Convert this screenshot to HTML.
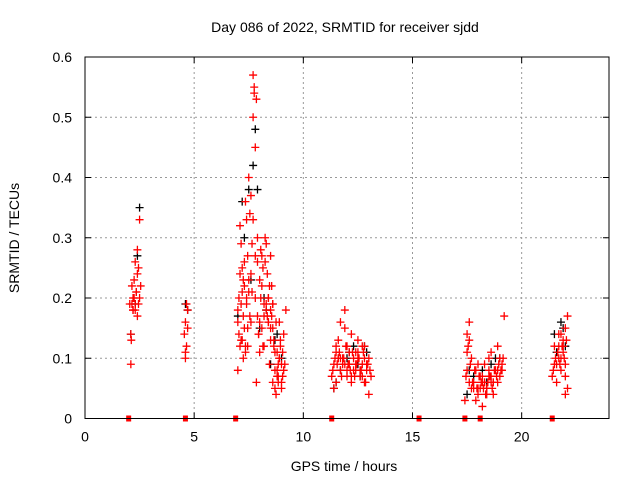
<!DOCTYPE html>
<html><head><meta charset="utf-8"><style>
body{margin:0;background:#fff}
svg text{font-family:"Liberation Sans",sans-serif;font-size:14px;fill:#000}
</style></head><body>
<svg id="chart" width="640" height="480" xmlns="http://www.w3.org/2000/svg">
<text x="345" y="32" text-anchor="middle">Day 086 of 2022, SRMTID for receiver sjdd</text>
<text x="344" y="471" text-anchor="middle">GPS time / hours</text>
<text transform="translate(19,238) rotate(-90)" text-anchor="middle">SRMTID / TECUs</text>
<g id="grid"></g><g id="marks"></g><g id="axes"></g>
</svg>
<script>
const xTicks=[0,5,10,15,20];
const yTicks=[0,0.1,0.2,0.3,0.4,0.5,0.6];
const yTickLabels=["0","0.1","0.2","0.3","0.4","0.5","0.6"];
const gapTimes=[2.0,4.6,6.9,11.3,15.3,17.4,18.1,21.4];
const blackTimes=[2.1,2.3,2.4,2.5,4.6,4.7,7.0,7.2,7.5,7.7,7.8,7.9,8.0,8.2,8.5,8.8,11.4,11.7,12.0,12.3,12.6,12.9,17.5,17.8,18.2,18.6,19.0,21.5,21.8,22.0,7.3,7.6,8.3,8.7,9.0,11.5,12.1,12.5,12.8,17.6,18.4,18.8,21.6,21.9];
const blackVals=[0.14,0.19,0.27,0.35,0.19,0.18,0.17,0.36,0.38,0.42,0.48,0.38,0.15,0.2,0.09,0.14,0.05,0.08,0.1,0.12,0.07,0.11,0.04,0.07,0.08,0.09,0.1,0.14,0.16,0.12,0.3,0.23,0.18,0.13,0.1,0.06,0.11,0.09,0.12,0.08,0.06,0.1,0.11,0.15];
const redTimes=[2.05,2.1,2.12,2.15,2.2,2.2,2.25,2.3,2.3,2.35,2.4,2.4,2.45,2.5,2.5,2.55,2.1,2.3,2.15,2.25,2.35,2.45,2.2,2.4,
4.55,4.6,4.6,4.65,4.7,4.7,4.6,4.65,
7.0,7.0,7.05,7.1,7.1,7.15,7.2,7.2,7.25,7.3,7.3,7.35,7.4,7.4,7.45,7.5,7.5,7.55,7.6,7.6,7.65,7.7,7.7,7.75,7.8,7.8,7.85,7.9,7.9,7.95,8.0,8.0,8.05,8.1,8.1,8.15,8.2,8.2,8.25,8.3,8.3,8.35,8.4,8.4,8.45,8.5,8.5,8.55,8.6,8.6,8.65,8.7,8.75,8.8,8.85,8.9,8.95,9.0,9.0,9.05,9.1,9.15,9.2,7.75,7.8,7.85,7.6,7.5,8.5,8.4,8.6,
7.0,7.05,7.1,7.15,7.2,7.25,7.3,7.35,7.4,7.45,7.55,7.65,7.7,7.9,8.0,8.1,8.2,8.3,8.4,8.5,8.55,8.6,8.65,8.7,8.8,8.85,8.9,8.95,9.0,9.05,9.1,8.7,8.75,8.8,8.85,8.9,7.95,8.05,8.15,8.25,8.35,8.45,7.15,7.25,7.35,7.45,
11.3,11.4,11.5,11.5,11.6,11.7,11.7,11.8,11.9,12.0,12.0,12.1,12.2,12.2,12.3,12.4,12.5,12.5,12.6,12.7,12.8,12.8,12.9,13.0,13.1,11.4,11.6,11.9,12.1,12.4,12.7,13.0,11.8,12.2,12.6,
11.35,11.45,11.55,11.65,11.75,11.85,11.95,12.05,12.15,12.25,12.35,12.45,12.55,12.65,12.75,12.85,12.95,13.05,11.5,11.7,11.9,12.1,12.3,12.5,12.7,12.9,11.6,12.0,12.4,12.8,
17.4,17.5,17.5,17.6,17.6,17.7,17.8,17.9,18.0,18.1,18.2,18.2,18.3,18.4,18.5,18.6,18.7,18.8,18.9,19.0,19.1,19.2,17.5,17.7,18.0,18.3,18.6,18.9,19.1,18.1,18.4,18.7,17.9,18.5,
17.45,17.55,17.65,17.75,17.85,17.95,18.05,18.15,18.25,18.35,18.45,18.55,18.65,18.75,18.85,18.95,19.05,19.15,17.6,17.8,18.0,18.2,18.4,18.6,18.8,19.0,18.3,18.5,18.7,18.9,
21.4,21.5,21.5,21.6,21.7,21.8,21.8,21.9,22.0,22.1,22.1,21.6,21.9,22.0,21.7,22.0,21.45,21.55,21.65,21.75,21.85,21.95,22.05,21.8,21.9,22.0,21.7];
const redVals=[0.19,0.09,0.13,0.22,0.2,0.18,0.23,0.26,0.19,0.21,0.28,0.17,0.25,0.33,0.2,0.22,0.14,0.18,0.19,0.2,0.21,0.19,0.18,0.24,
0.14,0.16,0.1,0.12,0.18,0.15,0.11,0.19,
0.08,0.16,0.2,0.32,0.12,0.29,0.25,0.13,0.1,0.22,0.15,0.36,0.19,0.33,0.12,0.4,0.21,0.34,0.24,0.16,0.29,0.57,0.5,0.55,0.2,0.27,0.06,0.3,0.17,0.14,0.23,0.11,0.2,0.27,0.15,0.25,0.19,0.12,0.3,0.29,0.18,0.24,0.16,0.2,0.09,0.18,0.13,0.22,0.15,0.06,0.12,0.08,0.16,0.11,0.07,0.1,0.13,0.06,0.05,0.11,0.14,0.09,0.18,0.54,0.45,0.53,0.37,0.23,0.27,0.16,0.19,
0.18,0.14,0.24,0.13,0.21,0.17,0.26,0.12,0.2,0.15,0.17,0.21,0.33,0.26,0.16,0.22,0.17,0.19,0.2,0.15,0.17,0.19,0.13,0.11,0.08,0.06,0.16,0.12,0.09,0.07,0.08,0.05,0.04,0.07,0.09,0.1,0.14,0.28,0.12,0.26,0.17,0.22,0.19,0.23,0.11,0.27,
0.07,0.09,0.11,0.06,0.13,0.08,0.16,0.1,0.18,0.07,0.12,0.09,0.14,0.06,0.1,0.08,0.11,0.13,0.07,0.09,0.12,0.06,0.08,0.1,0.07,0.05,0.1,0.15,0.09,0.11,0.12,0.04,0.09,0.07,0.08,
0.08,0.1,0.09,0.11,0.07,0.1,0.12,0.09,0.08,0.11,0.07,0.09,0.1,0.08,0.11,0.06,0.09,0.08,0.12,0.1,0.09,0.11,0.08,0.1,0.07,0.09,0.1,0.08,0.09,0.1,
0.03,0.08,0.14,0.06,0.16,0.1,0.05,0.08,0.04,0.07,0.02,0.06,0.09,0.05,0.07,0.11,0.04,0.08,0.06,0.1,0.09,0.17,0.11,0.05,0.09,0.06,0.07,0.12,0.08,0.05,0.04,0.06,0.03,0.1,
0.07,0.12,0.09,0.06,0.08,0.05,0.07,0.06,0.05,0.04,0.06,0.07,0.05,0.08,0.07,0.09,0.08,0.1,0.13,0.06,0.05,0.07,0.05,0.06,0.08,0.07,0.06,0.08,0.06,0.08,
0.07,0.09,0.12,0.06,0.1,0.14,0.08,0.11,0.15,0.05,0.17,0.09,0.13,0.07,0.12,0.04,0.08,0.1,0.11,0.09,0.12,0.1,0.13,0.1,0.12,0.09,0.14];
const X0=85,X1=609,Y0=418.5,YT=57;
const xs=t=>X0+t*(X1-X0)/24;
const ys=v=>Y0-v*(Y0-YT)/0.6;
const NS="http://www.w3.org/2000/svg";
function mk(tag,attrs,parent){const e=document.createElementNS(NS,tag);for(const k in attrs)e.setAttribute(k,attrs[k]);document.getElementById(parent).appendChild(e);return e;}
xTicks.forEach(t=>{
  if(t>0){const g=mk('line',{x1:xs(t),x2:xs(t),y1:YT,y2:Y0,stroke:'#999','stroke-dasharray':'2,3'},'grid');
  
  }
  const tk=mk('path',{d:`M${xs(t)},${Y0}v-6M${xs(t)},${YT}v6`,stroke:'#000'},'axes');
  
  
  const l=mk('text',{x:xs(t),y:Y0+23,'text-anchor':'middle'},'axes');l.textContent=t;
  
  
});
yTicks.forEach((v,i)=>{
  if(v>0&&v<0.6){const g=mk('line',{x1:X0,x2:X1,y1:ys(v),y2:ys(v),stroke:'#999','stroke-dasharray':'2,3'},'grid');
  
  }
  const tk=mk('path',{d:`M${X0},${ys(v)}h6M${X1},${ys(v)}h-6`,stroke:'#000'},'axes');
  
  
  const l=mk('text',{x:X0-13,y:ys(v)+5,'text-anchor':'end'},'axes');l.textContent=yTickLabels[i];
  
  
});
const frame=mk('rect',{x:X0,y:YT,width:X1-X0,height:Y0-YT,fill:'none',stroke:'#000'},'axes');


function plus(t,v,c,name){const x=xs(t),y=ys(v);
  const p=mk('path',{d:`M${x-4},${y}H${x+4}M${x},${y-4}V${y+4}`,stroke:c,'stroke-width':1.3},'marks');
  
  }
blackTimes.forEach((t,i)=>plus(t,blackVals[i],'#000','black-point'));
redTimes.forEach((t,i)=>plus(t,redVals[i],'#f00','red-point'));
gapTimes.forEach(t=>{const r=mk('rect',{x:xs(t)-2.5,y:Y0-3,width:5,height:6,fill:'#f00'},'marks');
  
  });
</script>
</body></html>
